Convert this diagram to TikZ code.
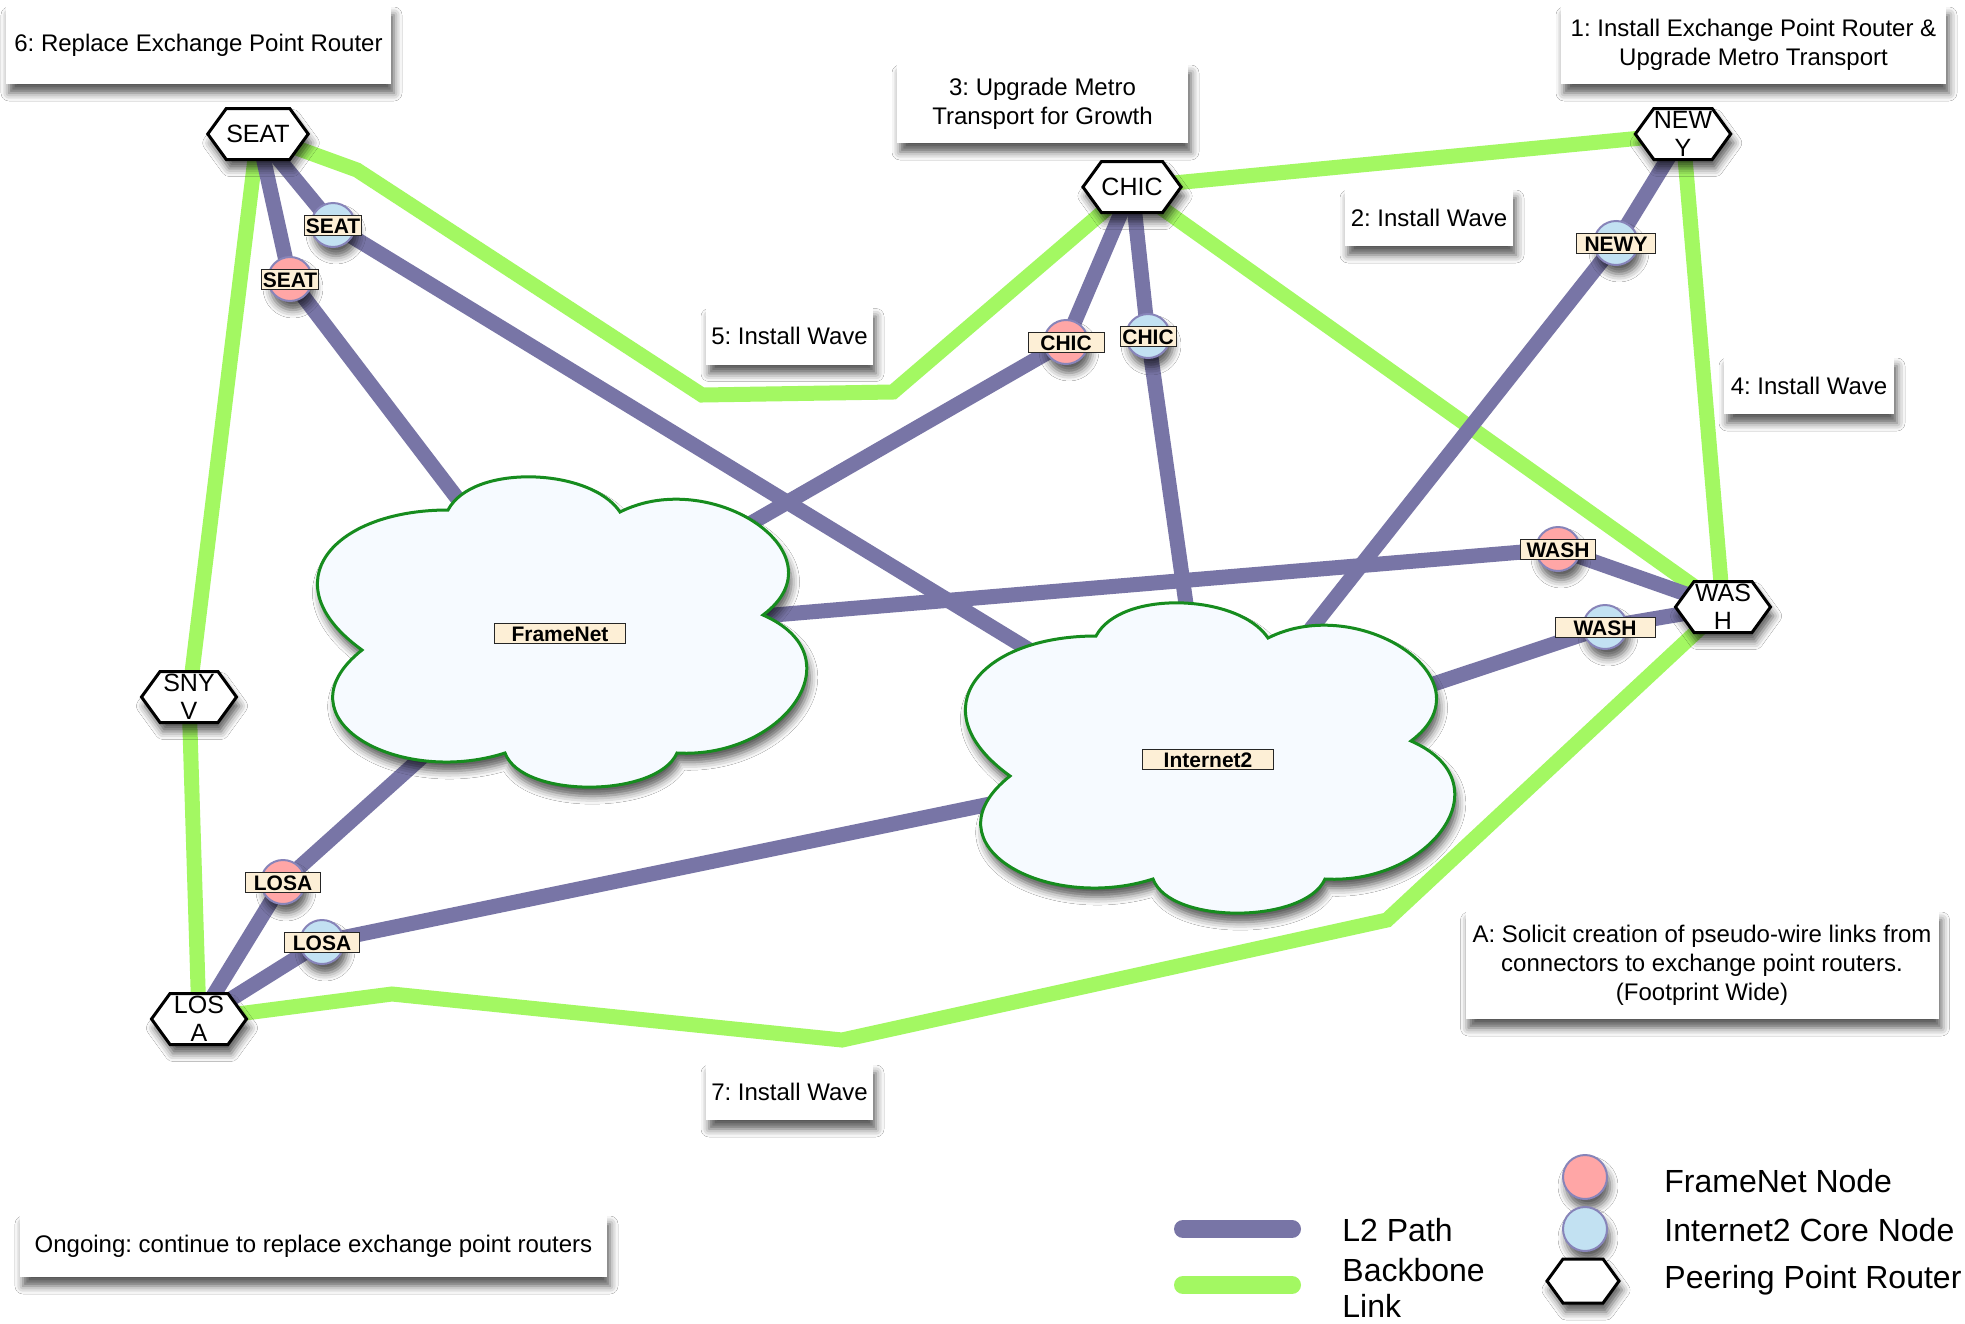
\documentclass[tikz,border=0pt]{standalone}
\usepackage{fontspec}
\setmainfont{Liberation Sans}
\usepackage{tikz}
\usetikzlibrary{shapes.symbols}
\usetikzlibrary{shadows.blur}
\frenchspacing

\definecolor{l2purple}{RGB}{120,117,166}
\definecolor{bbgreen}{RGB}{163,248,98}
\definecolor{fnred}{RGB}{255,166,166}
\definecolor{icblue}{RGB}{194,225,242}
\definecolor{tagcream}{RGB}{253,239,214}
\definecolor{cloudfill}{RGB}{246,250,255}
\definecolor{cloudline}{RGB}{22,140,30}
\definecolor{ringline}{RGB}{135,132,185}

\pgfdeclarelayer{lines}
\pgfsetlayers{lines,main}

\begin{document}
\begin{tikzpicture}[x=0.5pt, y=-0.5pt,
  softshadow/.style={blur shadow={shadow xshift=1.5pt, shadow yshift=-4.5pt, shadow blur radius=4pt, shadow opacity=65}},
  router/.style={signal, signal to=east and west, signal pointer angle=108, draw=black, line width=1.5pt, fill=white,
    minimum width=47.5pt, minimum height=25.5pt, inner sep=0pt, align=center, font=\fontsize{12.5}{14}\selectfont, softshadow},
  fnnode/.style={circle, draw=ringline, line width=1pt, fill=fnred, minimum size=22pt, inner sep=0pt, softshadow},
  icnode/.style={circle, draw=ringline, line width=1pt, fill=icblue, minimum size=22pt, inner sep=0pt, softshadow},
  tag/.style={draw=black!85, line width=0.5pt, fill=tagcream, font=\fontsize{10.5}{10.5}\selectfont\bfseries,
    inner xsep=0.5pt, inner ysep=0.75pt, text height=8.5pt, text depth=0pt},
  note/.style={fill=white, inner sep=0pt, align=center, font=\fontsize{12}{14.5}\selectfont, softshadow},
  keytext/.style={anchor=west, inner sep=0pt, align=left, font=\fontsize{16}{18}\selectfont},
  backbone/.style={bbgreen, line width=7.5pt},
  l2path/.style={l2purple, line width=7.5pt},
  netcloud/.pic={
    \draw[cloudline, line width=1.5pt, fill=cloudfill, softshadow]
      (-112,-122) .. controls (-87,-169) and (31,-164) .. (60,-120)
      .. controls (151,-166) and (285,-78) .. (203,-17)
      .. controls (299,25) and (222,127) .. (117,121)
      .. controls (97,166) and (-38,167) .. (-55,121)
      .. controls (-161,155) and (-285,87) .. (-198,18)
      .. controls (-291,-49) and (-227,-122) .. (-112,-122) -- cycle;
  }]

\useasboundingbox (0,0) rectangle (1965,1323);

\node[router] (seat) at (258,134) {SEAT};
\node[router] (chic) at (1132,187) {CHIC};
\node[router] (newy) at (1683,134) {NEW\\Y};
\node[router] (wash) at (1723,607) {WAS\\H};
\node[router] (snyv) at (189,697) {SNY\\V};
\node[router] (losa) at (199,1019) {LOS\\A};

\pic at (560,632) {netcloud};
\pic at (1208,758) {netcloud};
\node[tag, minimum width=65.5pt] (framenet) at (560,633) {FrameNet};
\node[tag, minimum width=65.5pt] (internet2) at (1208,759) {Internet2};

\node[icnode, label={[tag, minimum width=28.5pt]center:SEAT}] (seatic) at (333,225) {};
\node[fnnode, label={[tag, minimum width=28.5pt]center:SEAT}] (seatfn) at (290,279) {};
\node[fnnode, label={[tag, minimum width=38pt]center:CHIC}] (chicfn) at (1066,342) {};
\node[icnode, label={[tag, minimum width=28pt]center:CHIC}] (chicic) at (1148,336) {};
\node[icnode, label={[tag, minimum width=39.5pt]center:NEWY}] (newyic) at (1616,243) {};
\node[fnnode, label={[tag, minimum width=37.5pt]center:WASH}] (washfn) at (1558,549) {};
\node[icnode, label={[tag, minimum width=50pt]center:WASH}] (washic) at (1605,627) {};
\node[fnnode, label={[tag, minimum width=37.5pt]center:LOSA}] (losafn) at (283,882) {};
\node[icnode, label={[tag, minimum width=37.5pt]center:LOSA}] (losaic) at (322,942) {};

\node[note, minimum width=192.5pt, minimum height=39pt] (step6) at (198.5,45) {6: Replace Exchange Point Router};
\node[note, minimum width=145.5pt, minimum height=39.5pt] (step3) at (1042.5,103.5) {3: Upgrade Metro\\Transport for Growth};
\node[note, minimum width=192.5pt, minimum height=39pt] (step1) at (1753.5,45) {1: Install Exchange Point Router \&\\Upgrade Metro Transport};
\node[note, minimum width=84pt, minimum height=28.5pt] (step2) at (1429,217.5) {2: Install Wave};
\node[note, minimum width=83.5pt, minimum height=28.5pt] (step5) at (789.5,336) {5: Install Wave};
\node[note, minimum width=85pt, minimum height=28.5pt] (step4) at (1809,385.5) {4: Install Wave};
\node[note, minimum width=236.5pt, minimum height=54pt] (stepa) at (1702,965) {A: Solicit creation of pseudo-wire links from\\connectors to exchange point routers.\\(Footprint Wide)};
\node[note, minimum width=83.5pt, minimum height=28pt] (step7) at (789.5,1092) {7: Install Wave};
\node[note, minimum width=293.5pt, minimum height=31pt] (ongoing) at (313.5,1246) {Ongoing: continue to replace exchange point routers};

\coordinate (keyl2a) at (1183,1229);
\coordinate (keyl2b) at (1292,1229);
\coordinate (keybba) at (1183,1285);
\coordinate (keybbb) at (1292,1285);
\draw[l2path, line width=9pt, line cap=round] (keyl2a) -- (keyl2b);
\draw[backbone, line width=9pt, line cap=round] (keybba) -- (keybbb);
\node[keytext] (keyl2text) at (1342,1230) {L2 Path};
\node[keytext] (keybbtext) at (1342,1288) {Backbone\\Link};

\node[fnnode] (keyfn) at (1585,1177) {};
\node[icnode] (keyic) at (1585,1229) {};
\node[router, minimum width=36pt, minimum height=22pt] (keyrt) at (1583,1281) {};
\node[keytext] (keyfntext) at (1664,1181) {FrameNet Node};
\node[keytext] (keyictext) at (1664,1230) {Internet2 Core Node};
\node[keytext] (keyrttext) at (1664,1280) {Peering Point Router};

\coordinate (seatbend) at (357,170);
\coordinate (wavea) at (702,395);
\coordinate (waveb) at (893,392);
\coordinate (washbend) at (1387,920);
\coordinate (wavec) at (842,1040);
\coordinate (losabend) at (392,994);

\begin{pgfonlayer}{lines}
\fill[white] (0,0) rectangle (1965,1323);
\draw[backbone] (seat.center) -- (snyv.center);
\draw[backbone] (snyv.center) -- (losa.center);
\draw[backbone] (seat.center) -- (seatbend) -- (wavea) -- (waveb) -- (chic.center);
\draw[backbone] (chic.center) -- (newy.center);
\draw[backbone] (newy.center) -- (wash.center);
\draw[backbone] (chic.center) -- (wash.center);
\draw[backbone] (wash.center) -- (washbend) -- (wavec) -- (losabend) -- (losa.center);

\draw[l2path] (seat.center) -- (seatfn.center) -- (framenet.center);
\draw[l2path] (seat.center) -- (seatic.center) -- (internet2.center);
\draw[l2path] (chic.center) -- (chicfn.center) -- (framenet.center);
\draw[l2path] (chic.center) -- (chicic.center) -- (internet2.center);
\draw[l2path] (newy.center) -- (newyic.center) -- (internet2.center);
\draw[l2path] (wash.center) -- (washfn.center) -- (framenet.center);
\draw[l2path] (wash.center) -- (washic.center) -- (internet2.center);
\draw[l2path] (losa.center) -- (losafn.center) -- (framenet.center);
\draw[l2path] (losa.center) -- (losaic.center) -- (internet2.center);
\end{pgfonlayer}
\end{tikzpicture}
\end{document}
